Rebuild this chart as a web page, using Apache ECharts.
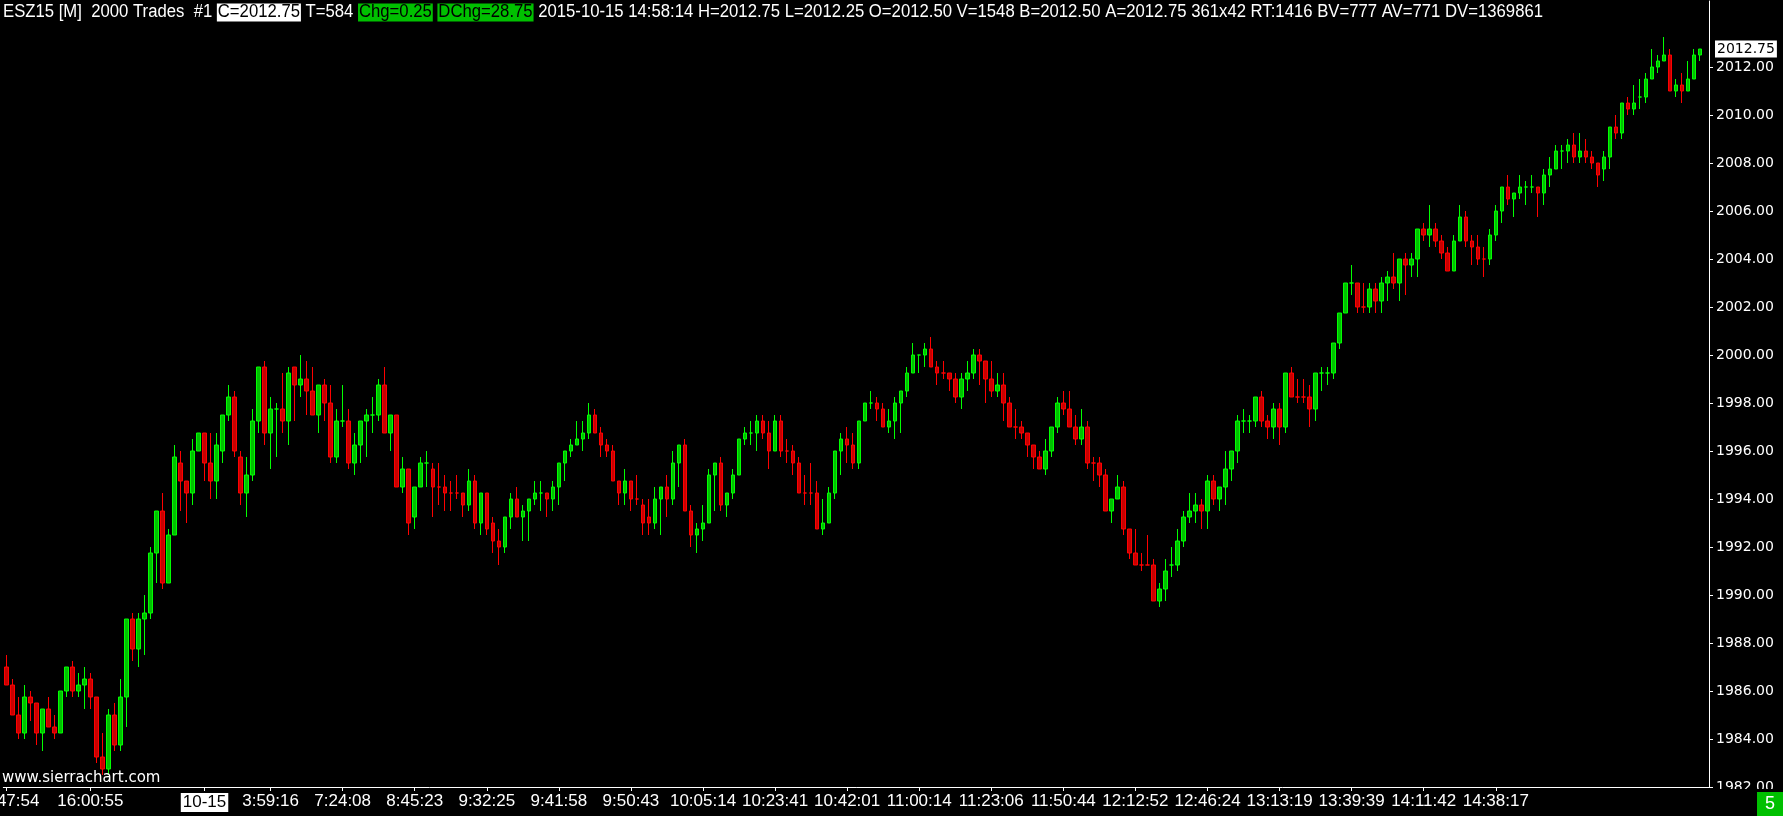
<!DOCTYPE html>
<html><head><meta charset="utf-8">
<script src="https://cdn.jsdelivr.net/npm/echarts@6/dist/echarts.min.js"></script>
<style>html,body{margin:0;padding:0;background:#000;overflow:hidden}#c{width:1783px;height:816px}</style>
</head><body><div id="c"></div>
<script>
const opens=[1987.0,1986.25,1985.0,1984.25,1985.75,1985.5,1984.25,1985.25,1984.5,1984.25,
1986.0,1987.0,1986.0,1986.25,1986.5,1985.75,1983.25,1982.75,1985.0,1983.75,
1985.75,1989.0,1987.75,1989.0,1989.25,1991.75,1993.5,1990.5,1992.5,1995.5,
1994.75,1994.25,1996.0,1996.75,1995.5,1994.75,1996.0,1997.5,1998.25,1995.75,
1994.25,1995.0,1997.25,1999.5,1996.75,1997.75,1997.75,1997.25,1999.5,1998.75,
1999.0,1998.5,1997.5,1998.75,1998.0,1995.75,1997.25,1997.25,1995.5,1996.25,
1997.25,1997.5,1997.5,1998.75,1996.75,1997.5,1994.5,1995.25,1993.25,1994.5,
1995.5,1995.25,1994.5,1994.5,1994.25,1994.25,1994.25,1993.75,1994.75,1993.0,
1994.25,1993.0,1992.25,1992.0,1993.25,1994.0,1993.25,1993.5,1994.0,1994.25,
1994.25,1994.0,1994.5,1995.5,1996.0,1996.25,1996.5,1996.75,1997.5,1996.75,
1996.25,1996.0,1994.75,1994.25,1994.75,1994.0,1993.75,1993.25,1993.0,1994.0,
1994.5,1994.0,1995.5,1996.25,1993.5,1992.5,1992.75,1993.0,1995.0,1995.5,
1993.75,1994.25,1995.0,1996.5,1996.75,1996.75,1997.25,1996.75,1996.0,1997.25,
1996.0,1996.0,1995.5,1994.25,1994.25,1994.25,1992.75,1993.0,1994.25,1996.0,
1996.5,1996.25,1995.5,1997.25,1998.0,1998.0,1997.75,1997.0,1997.25,1998.0,
1998.5,1999.25,2000.0,2000.0,2000.25,1999.5,1999.25,1999.25,1999.0,1998.25,
1999.0,1999.25,2000.0,1999.75,1999.0,1998.5,1998.75,1998.0,1997.0,1997.0,
1996.75,1996.25,1995.75,1995.25,1996.0,1997.0,1998.0,1997.75,1997.0,1996.5,
1997.0,1995.5,1995.5,1995.0,1993.5,1994.0,1994.5,1992.75,1991.75,1991.25,
1991.25,1991.25,1989.75,1990.25,1991.25,1991.25,1992.25,1993.25,1993.5,1993.75,
1993.5,1994.75,1994.0,1994.5,1995.25,1996.0,1997.25,1997.25,1997.25,1998.25,
1997.25,1997.0,1997.75,1997.0,1999.25,1998.25,1998.25,1998.25,1997.75,1999.25,
1999.25,1999.25,2000.5,2001.75,2003.0,2003.0,2002.0,2002.0,2002.75,2002.25,
2003.0,2003.25,2003.0,2004.0,2003.75,2004.0,2005.25,2005.0,2005.25,2004.75,
2004.25,2003.5,2004.75,2005.75,2004.75,2004.5,2004.0,2004.0,2005.0,2006.0,
2007.0,2006.5,2006.75,2007.0,2007.0,2007.0,2006.75,2007.5,2007.75,2008.5,
2008.5,2008.75,2008.25,2008.5,2008.25,2008.0,2007.75,2008.25,2009.5,2009.25,
2010.5,2010.25,2010.75,2010.75,2011.5,2012.0,2012.25,2012.5,2011.0,2011.25,
2011.0,2011.5,2012.5];
const highs=[1987.5,1986.5,1985.75,1986.25,1986.0,1985.5,1985.25,1985.75,1985.0,1986.0,
1987.0,1987.25,1986.75,1987.0,1986.75,1985.75,1984.25,1985.25,1985.5,1986.5,
1989.0,1989.25,1989.25,1990.0,1992.0,1993.5,1994.25,1992.75,1996.25,1996.0,
1994.75,1996.5,1996.75,1996.75,1996.75,1996.75,1997.5,1998.75,1998.5,1996.0,
1995.75,1997.75,1999.5,1999.75,1998.25,1998.0,1999.25,1999.5,1999.5,2000.0,
1999.75,1999.5,1998.75,1999.0,1998.75,1997.75,1998.75,1997.75,1996.75,1997.25,
1997.75,1998.25,1999.0,1999.5,1997.5,1997.5,1995.75,1995.25,1994.5,1995.75,
1996.0,1995.5,1995.5,1995.0,1994.75,1995.0,1994.25,1995.25,1995.0,1994.25,
1994.25,1993.25,1992.75,1993.25,1994.25,1994.5,1993.75,1994.0,1994.75,1994.75,
1994.25,1994.75,1995.5,1996.0,1996.5,1997.25,1997.25,1998.0,1997.75,1997.0,
1996.5,1996.25,1994.75,1995.25,1994.75,1995.0,1994.0,1994.0,1994.5,1994.5,
1995.0,1996.0,1996.25,1996.5,1993.75,1993.0,1993.75,1995.25,1995.5,1995.75,
1994.25,1995.25,1996.5,1997.0,1997.25,1997.5,1997.5,1997.25,1997.5,1997.5,
1996.5,1996.25,1995.75,1995.0,1995.5,1994.75,1994.0,1994.5,1996.0,1996.75,
1997.0,1996.75,1997.25,1998.0,1998.5,1998.25,1998.0,1997.75,1998.25,1998.5,
1999.5,2000.5,2000.0,2000.5,2000.75,1999.75,1999.75,1999.25,1999.25,1999.25,
1999.75,2000.25,2000.25,1999.75,1999.75,1999.25,1999.25,1998.25,1997.75,1997.25,
1996.75,1996.25,1996.0,1996.5,1997.0,1998.25,1998.5,1998.5,1997.5,1997.75,
1997.25,1995.75,1995.75,1995.25,1994.0,1995.0,1994.75,1992.75,1992.75,1991.75,
1992.5,1991.5,1990.5,1991.5,1992.0,1992.75,1993.5,1994.25,1994.25,1994.0,
1995.0,1995.0,1994.5,1996.0,1996.0,1997.5,1997.75,1997.5,1998.25,1998.5,
1997.5,1998.0,1998.0,1999.25,1999.5,1999.0,1999.0,1998.75,1999.25,1999.5,
1999.5,2000.5,2001.75,2003.0,2003.75,2003.0,2003.0,2003.0,2003.0,2003.25,
2003.5,2004.25,2004.0,2004.25,2004.25,2005.25,2005.5,2006.25,2005.5,2005.0,
2004.5,2005.0,2006.25,2006.0,2005.0,2005.0,2004.5,2005.25,2006.25,2007.0,
2007.5,2006.75,2007.5,2007.25,2007.5,2007.0,2007.75,2008.25,2008.75,2008.75,
2009.0,2009.25,2009.25,2009.0,2008.5,2008.0,2008.5,2009.5,2010.0,2010.5,
2010.75,2011.25,2011.5,2011.75,2012.75,2012.5,2013.25,2012.75,2011.5,2011.75,
2012.25,2012.75,2012.75];
const lows=[1986.25,1985.0,1984.0,1984.0,1984.75,1983.75,1983.5,1984.5,1984.0,1984.25,
1985.75,1985.75,1985.75,1985.25,1985.25,1983.0,1982.5,1982.5,1983.5,1983.5,
1984.5,1987.25,1987.0,1987.5,1989.0,1990.5,1990.25,1990.5,1992.5,1993.5,
1993.0,1993.75,1996.0,1994.75,1994.0,1994.0,1995.5,1997.25,1995.75,1993.75,
1993.25,1994.75,1996.75,1996.25,1995.25,1995.75,1996.75,1996.25,1997.25,1998.25,
1997.5,1997.5,1996.75,1997.25,1995.5,1995.5,1997.0,1995.25,1995.0,1995.5,
1995.75,1996.75,1997.25,1996.75,1996.0,1994.5,1994.25,1992.5,1992.75,1994.5,
1994.5,1993.25,1993.75,1993.5,1993.5,1994.0,1993.25,1993.5,1992.75,1992.5,
1992.5,1991.75,1991.25,1991.75,1992.75,1993.25,1992.25,1992.25,1993.75,1993.5,
1993.25,1993.5,1993.75,1994.75,1995.75,1996.25,1996.0,1996.5,1996.75,1995.75,
1995.75,1994.75,1993.75,1993.75,1993.5,1993.75,1992.5,1992.5,1992.75,1992.5,
1993.25,1993.75,1994.5,1993.5,1992.0,1991.75,1992.25,1993.0,1993.5,1993.5,
1993.25,1994.0,1995.0,1996.25,1996.25,1996.0,1996.5,1995.25,1996.0,1995.75,
1995.5,1995.0,1994.25,1993.75,1993.75,1992.75,1992.5,1993.0,1994.0,1995.0,
1995.5,1995.25,1995.25,1997.25,1997.75,1997.25,1997.0,1996.75,1996.5,1996.75,
1998.25,1999.25,1999.25,1999.5,1999.5,1998.75,1999.0,1998.5,1998.0,1997.75,
1998.5,1999.0,1998.75,1998.0,1998.25,1998.25,1997.25,1997.0,1996.5,1996.5,
1995.75,1995.25,1995.25,1995.0,1995.75,1996.75,1997.5,1997.0,1996.25,1996.25,
1995.25,1994.75,1994.5,1993.5,1993.0,1994.0,1992.5,1991.5,1991.25,1991.0,
1991.25,1989.75,1989.5,1989.75,1990.75,1991.0,1992.0,1993.0,1993.0,1992.75,
1992.75,1993.75,1993.5,1993.75,1994.75,1995.5,1996.75,1996.75,1997.0,1997.0,
1996.5,1996.5,1996.25,1996.75,1998.25,1998.0,1998.0,1997.0,1997.25,1998.5,
1998.75,1999.0,2000.25,2001.75,2002.5,2001.75,2001.75,2001.75,2001.75,2001.75,
2002.25,2002.75,2002.25,2002.5,2003.25,2003.25,2004.75,2004.5,2004.5,2004.0,
2003.5,2003.5,2004.75,2004.5,2003.75,2003.75,2003.25,2003.75,2004.75,2005.5,
2006.25,2005.75,2006.5,2006.25,2006.75,2005.75,2006.25,2007.0,2007.75,2007.75,
2008.0,2008.0,2008.0,2008.0,2007.75,2007.0,2007.25,2007.75,2009.0,2009.0,
2010.0,2010.0,2010.25,2010.5,2011.5,2011.75,2012.25,2011.0,2010.75,2010.5,
2011.0,2011.5,2012.25];
const closes=[1986.25,1985.0,1984.25,1985.75,1985.5,1984.25,1985.25,1984.5,1984.25,1986.0,
1987.0,1986.0,1986.25,1986.5,1985.75,1983.25,1982.75,1985.0,1983.75,1985.75,
1989.0,1987.75,1989.0,1989.25,1991.75,1993.5,1990.5,1992.5,1995.75,1994.75,
1994.25,1996.0,1996.75,1995.5,1994.75,1996.25,1997.5,1998.25,1996.0,1994.25,
1995.0,1997.25,1999.5,1996.75,1997.75,1997.75,1997.25,1999.25,1998.75,1999.0,
1998.5,1997.5,1998.75,1998.0,1995.75,1997.25,1997.25,1995.5,1996.25,1997.25,
1997.5,1997.5,1998.75,1996.75,1997.5,1994.5,1995.25,1993.0,1994.5,1995.5,
1995.5,1994.5,1994.5,1994.25,1994.25,1994.25,1993.75,1994.75,1993.0,1994.25,
1992.75,1992.25,1992.0,1993.25,1994.0,1993.25,1993.5,1994.0,1994.25,1994.25,
1994.0,1994.5,1995.5,1996.0,1996.25,1996.5,1996.75,1997.5,1996.75,1996.25,
1996.0,1994.75,1994.25,1994.75,1994.0,1994.0,1993.0,1993.0,1994.0,1994.5,
1994.0,1995.5,1996.25,1993.5,1992.5,1992.75,1993.0,1995.0,1995.5,1993.75,
1994.25,1995.0,1996.5,1996.75,1996.75,1997.25,1996.75,1996.0,1997.25,1996.0,
1996.0,1995.5,1994.25,1994.25,1994.25,1992.75,1993.0,1994.25,1996.0,1996.5,
1996.25,1995.5,1997.25,1998.0,1998.0,1997.75,1997.0,1997.25,1998.0,1998.5,
1999.25,2000.0,2000.0,2000.25,1999.5,1999.25,1999.25,1999.0,1998.25,1999.0,
1999.25,2000.0,1999.75,1999.0,1998.5,1998.75,1998.0,1997.0,1997.0,1996.75,
1996.25,1995.75,1995.25,1996.0,1997.0,1998.0,1997.75,1997.0,1996.5,1997.0,
1995.5,1995.5,1995.0,1993.5,1994.0,1994.5,1992.75,1991.75,1991.25,1991.25,
1991.25,1989.75,1990.25,1991.0,1991.25,1992.25,1993.25,1993.5,1993.75,1993.5,
1994.75,1994.0,1994.5,1995.25,1996.0,1997.25,1997.25,1997.25,1998.25,1997.25,
1997.0,1997.75,1997.0,1999.25,1998.25,1998.25,1998.25,1997.75,1999.25,1999.25,
1999.25,2000.5,2001.75,2003.0,2003.0,2002.0,2002.0,2002.75,2002.25,2003.0,
2003.25,2003.0,2004.0,2003.75,2004.0,2005.25,2005.0,2005.25,2004.75,2004.25,
2003.5,2004.75,2005.75,2004.75,2004.5,2004.0,2004.0,2005.0,2006.0,2007.0,
2006.5,2006.75,2007.0,2007.0,2007.0,2006.75,2007.5,2007.75,2008.5,2008.5,
2008.75,2008.25,2008.5,2008.25,2008.0,2007.5,2008.25,2009.5,2009.25,2010.5,
2010.25,2010.5,2010.75,2011.5,2012.0,2012.25,2012.5,2011.0,2011.25,2011.0,
2011.5,2012.5,2012.75];
const tickBars=[0,14,33,44,56,68,80,92,104,116,128,140,152,164,176,188,200,212,224,236,248];
const tickLabels=["15:47:54","16:00:55","10-15","3:59:16","7:24:08","8:45:23","9:32:25","9:41:58","9:50:43","10:05:14","10:23:41","10:42:01","11:00:14","11:23:06","11:50:44","12:12:52","12:46:24","13:13:19","13:39:39","14:11:42","14:38:17"];
const dateLabel="10-15";
const priceTicks=[1982,1984,1986,1988,1990,1992,1994,1996,1998,2000,2002,2004,2006,2008,2010,2012];
const headerParts=[["w","ESZ15 [M]  2000 Trades  #1 "],["b","C=2012.75"],["w"," T=584 "],["g","Chg=0.25"],["w"," "],["g","DChg=28.75"],["w"," 2015-10-15 14:58:14 H=2012.75 L=2012.25 O=2012.50 V=1548 B=2012.50 A=2012.75 361x42 RT:1416 BV=777 AV=771 DV=1369861"]];

const SANS="'Liberation Sans',Arial,sans-serif";
const UP_FILL='#00c000', UP_LINE='#00ff00', DN_FILL='#c80000', DN_LINE='#ff0000';
const HEADER_SIZE=18, HEADER_WIDTH=1540;

const N=opens.length;
const categories=[];
for(let i=0;i<=N;i++) categories.push(String(i));
const tickMap={};
tickBars.forEach((b,i)=>{tickMap[b]=tickLabels[i];});

let prevDir=1;
const items=opens.map((o,i)=>{
  const c=closes[i];
  const d=c>o?1:(c<o?-1:prevDir);
  prevDir=d;
  const fill=d>0?UP_FILL:DN_FILL, line=d>0?UP_LINE:DN_LINE;
  return {value:[o,c,lows[i],highs[i]],itemStyle:{color:fill,color0:fill,borderColor:line,borderColor0:line,borderColorDoji:line}};
});

// condense header text horizontally like the original narrow font
const mctx=document.createElement('canvas').getContext('2d');
mctx.font=HEADER_SIZE+"px 'Liberation Sans'";
let hw=0; headerParts.forEach(p=>{hw+=mctx.measureText(p[1]).width+(p[0]==='w'?0:2);});
const headerScale=HEADER_WIDTH/hw;

const chart=echarts.init(document.getElementById('c'),null,{renderer:'canvas'});
chart.setOption({
  backgroundColor:'#000',
  animation:false,
  grid:{left:3.33,right:74,top:1,bottom:29,containLabel:false,outerBoundsMode:'none'},
  xAxis:{type:'category',data:categories,boundaryGap:true,
    axisLine:{show:true,lineStyle:{color:'#ffffff',width:1}},
    axisTick:{show:true,alignWithLabel:true,interval:(i)=>tickMap[i]!==undefined,length:4,lineStyle:{color:'#ffffff'}},
    axisLabel:{show:true,interval:(i)=>tickMap[i]!==undefined,margin:6,color:'#fff',fontFamily:SANS,fontSize:17,
      hideOverlap:false,
      formatter:(v,i)=>{const t=tickMap[i];if(t===undefined)return '';return t===dateLabel?'{d|'+t+'}':t;},
      rich:{d:{color:'#000',backgroundColor:'#fff',fontFamily:SANS,fontSize:17,padding:[1,2]}}},
    splitLine:{show:false}},
  yAxis:{type:'value',position:'right',min:1982,max:2014.75,interval:2,
    axisLine:{show:true,lineStyle:{color:'#ffffff',width:1}},
    axisTick:{show:true,length:4,lineStyle:{color:'#ffffff'},customValues:priceTicks},
    axisLabel:{color:'#fff',fontFamily:'DejaVu Sans',fontSize:14,margin:7,customValues:priceTicks,
      formatter:(v)=>v>2012.5?'':v.toFixed(2)},
    splitLine:{show:false}},
  series:[{type:'candlestick',data:items,barWidth:4,itemStyle:{borderWidth:1}}]
});

const lastY=chart.convertToPixel({yAxisIndex:0},closes[N-1]);
chart.setOption({graphic:[
  {type:'text',x:3,y:2,scaleX:headerScale,z:100,style:{
    text:headerParts.map(p=>'{'+p[0]+'|'+p[1]+'}').join(''),
    rich:{
      w:{fill:'#fff',font:HEADER_SIZE+"px 'Liberation Sans'",lineHeight:21},
      b:{fill:'#000',backgroundColor:'#fff',font:HEADER_SIZE+"px 'Liberation Sans'",lineHeight:21,padding:[0,1]},
      g:{fill:'#000',backgroundColor:'#00c000',font:HEADER_SIZE+"px 'Liberation Sans'",lineHeight:21,padding:[0,1]}
    }}},
  {type:'rect',x:1710,y:789,z:100,shape:{width:73,height:27},style:{fill:'#000'}},
  {type:'rect',x:1757,y:792,z:101,shape:{width:26,height:24},style:{fill:'#00c000'}},
  {type:'text',x:1770,y:804,z:102,style:{text:'5',fill:'#fff',font:"18px 'Liberation Sans'",align:'center',verticalAlign:'middle'}},
  {type:'text',x:2,y:771,z:102,style:{text:'www.sierrachart.com',fill:'#fff',font:"15px 'DejaVu Sans'"}},
  {type:'text',x:1715,y:lastY,z:102,style:{text:closes[N-1].toFixed(2),fill:'#000',backgroundColor:'#fff',
    font:"14px 'DejaVu Sans'",verticalAlign:'middle',padding:[2,2,1,2]}}
]});
</script></body></html>
